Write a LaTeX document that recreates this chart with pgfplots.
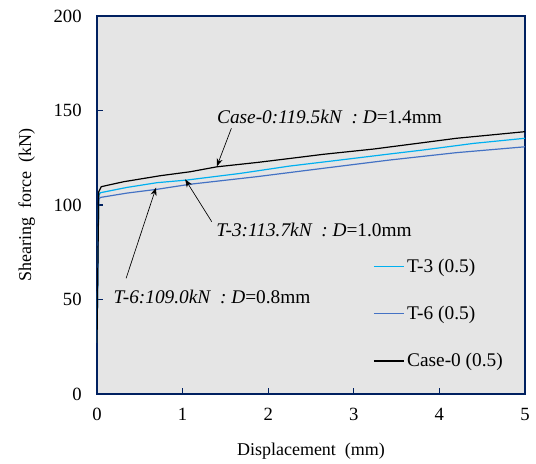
\documentclass[border=0pt]{standalone}
\usepackage{pgfplots}
\pgfplotsset{compat=1.18}
\usetikzlibrary{arrows.meta}
\usepackage{fontspec}
\setmainfont{Liberation Serif}
\definecolor{bgray}{RGB}{229,229,229}
\definecolor{navy}{RGB}{0,32,96}
\definecolor{tcyan}{RGB}{0,176,240}
\definecolor{tblue}{RGB}{68,114,196}
\begin{document}
\begin{tikzpicture}
\path[use as bounding box] (-72.75pt,-52.5pt) rectangle (329.25pt,295.5pt);
\begin{axis}[
    at={(0,0)}, anchor=south west,
    scale only axis,
    width=321pt, height=283.5pt,
    xmin=0, xmax=5, ymin=0, ymax=200,
    xtick={0,1,2,3,4,5}, ytick={0,50,100,150,200},
    tick pos=left, tick align=inside,
    major tick length=4.5pt,
    axis line style={navy, line width=1pt},
    every tick/.style={navy, line width=0.8pt},
    axis background/.style={fill=bgray},
    font=\fontsize{13.5}{15}\selectfont,
    ticklabel style={font=\fontsize{14}{16}\selectfont},
    /pgf/number format/assume math mode=true,
    xticklabel style={yshift=-7pt},
    yticklabel style={xshift=-8pt},
    xlabel={Displacement\ \ (mm)},
    ylabel={Shearing\ \ force\ \ (kN)},
    xlabel style={yshift=-10pt},
    ylabel style={yshift=7pt},
    legend style={at={(0.635,0.373)}, anchor=north west, draw=none, fill=none,
        font=\fontsize{14.5}{16}\selectfont, row sep=20pt},
    legend cell align=left,
    legend image code/.code={\draw[#1, line width=1.1pt] (0pt,0pt) -- (22.5pt,0pt);},
]
\addplot[tcyan, line width=0.9pt] coordinates {
    (0,27) (0.02,105) (0.04,106.5) (0.35,109.3) (0.70,111.8) (1.05,113.2) (1.67,116.7)
    (2.25,120.6) (2.84,123.8) (3.42,127.0) (3.81,129.1) (4.40,132.6) (5.0,135.3)
};
\addlegendentry{T-3 (0.5)}
\addplot[tblue, line width=0.9pt] coordinates {
    (0,27) (0.02,103) (0.04,104) (0.35,106.3) (0.70,108.3) (1.09,111.0) (1.87,115.0)
    (2.64,119.4) (3.42,123.8) (4.20,127.7) (5.0,130.8)
};
\addlegendentry{T-6 (0.5)}
\addplot[black, line width=0.9pt] coordinates {
    (0,27) (0.02,107) (0.05,109.7) (0.31,112.3) (0.74,115.5) (1.09,117.6) (1.40,120.2)
    (1.87,122.5) (2.25,124.6) (2.64,126.8) (3.23,129.6) (3.81,133.0) (4.20,135.3)
    (4.59,137.0) (5.0,138.8)
};
\addlegendentry{Case-0 (0.5)}
\draw[-{Stealth[length=6pt,width=4.5pt]}, line width=0.5pt] (axis cs:1.57,140.6) -- (axis cs:1.40,120.4);
\draw[-{Stealth[length=6pt,width=4.5pt]}, line width=0.5pt] (axis cs:1.34,91.2) -- (axis cs:1.03,113.6);
\draw[-{Stealth[length=6pt,width=4.5pt]}, line width=0.5pt] (axis cs:0.34,61.2) -- (axis cs:0.69,109.2);
\node[anchor=west, inner sep=0pt, font=\fontsize{14.5}{16}\selectfont] at (axis cs:1.40,146.5) {\textit{Case-0:119.5kN\ \ :\ D}=1.4mm};
\node[anchor=west, inner sep=0pt, font=\fontsize{14.5}{16}\selectfont] at (axis cs:1.39,86.8) {\textit{T-3:113.7kN\ \ :\ D}=1.0mm};
\node[anchor=west, inner sep=0pt, font=\fontsize{14.5}{16}\selectfont] at (axis cs:0.19,51.5) {\textit{T-6:109.0kN\ \ :\ D}=0.8mm};
\end{axis}
\end{tikzpicture}
\end{document}
